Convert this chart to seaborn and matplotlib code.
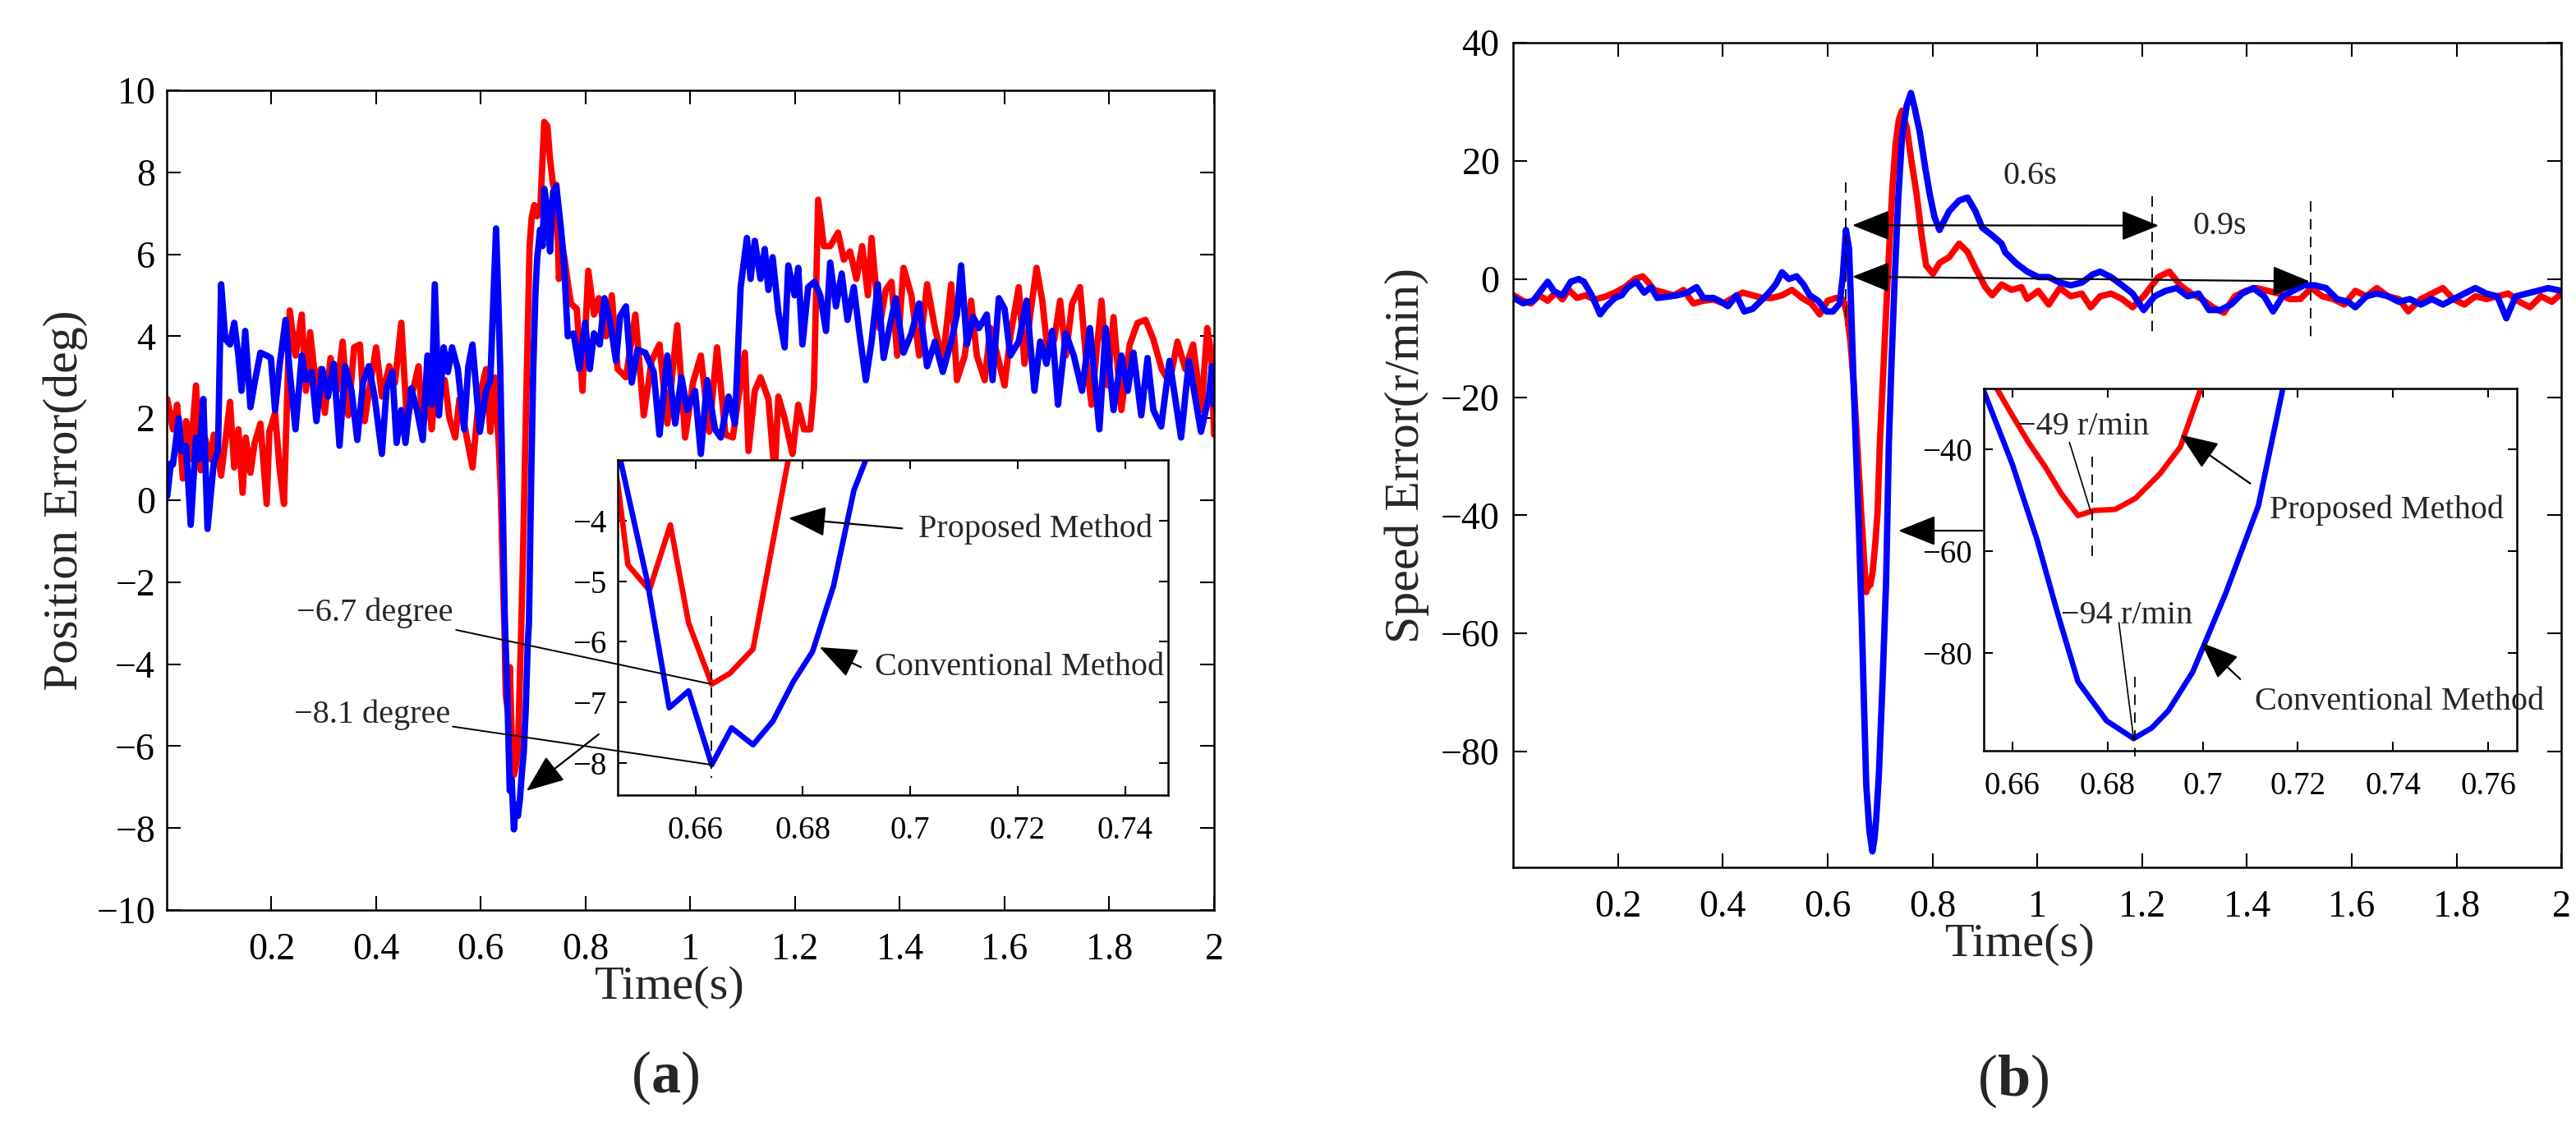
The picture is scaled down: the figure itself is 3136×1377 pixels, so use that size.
import matplotlib
matplotlib.use("Agg")
import matplotlib.pyplot as plt
import seaborn as sns
from matplotlib.patches import ArrowStyle

sns.set_theme(style="white")
plt.rcParams['font.family'] = ['Liberation Serif', 'DejaVu Serif']
plt.rcParams['mathtext.fontset'] = 'custom'
plt.rcParams['mathtext.rm'] = 'Liberation Serif'
plt.rcParams['mathtext.bf'] = 'Liberation Serif:bold'
plt.rcParams['axes.unicode_minus'] = True

# ---------------- (a) position error ----------------
pos_red_t = [0.001, 0.012, 0.020, 0.031, 0.037, 0.045, 0.056, 0.065, 0.073, 0.084, 0.090, 0.104,
             0.121, 0.129, 0.137, 0.145, 0.151, 0.160, 0.168, 0.179, 0.191, 0.196, 0.207, 0.216,
             0.224, 0.235, 0.246, 0.258, 0.266, 0.274, 0.286, 0.294, 0.302, 0.313, 0.325, 0.336,
             0.347, 0.358, 0.369, 0.378, 0.389, 0.400, 0.411, 0.425, 0.436, 0.448, 0.459, 0.470,
             0.481, 0.489, 0.501, 0.506, 0.515, 0.523, 0.531, 0.540, 0.551, 0.559, 0.570, 0.584,
             0.596, 0.610, 0.618, 0.626, 0.630, 0.634, 0.638, 0.642,
             0.6455, 0.6474, 0.6514, 0.6553, 0.6587, 0.6630, 0.6664, 0.6707, 0.6740, 0.6773,
             0.681, 0.685, 0.689, 0.693, 0.697, 0.702, 0.707, 0.713, 0.721, 0.727, 0.732, 0.738,
             0.744, 0.749, 0.755, 0.760, 0.766, 0.772, 0.783, 0.794, 0.805, 0.816, 0.825, 0.839,
             0.850, 0.861, 0.877, 0.895, 0.911, 0.926, 0.941, 0.956, 0.975, 0.990, 1.005, 1.020,
             1.036, 1.051, 1.067, 1.081, 1.104, 1.111, 1.123, 1.134, 1.149, 1.161, 1.168, 1.180,
             1.195, 1.206, 1.217, 1.229, 1.236, 1.244, 1.255, 1.267, 1.282, 1.293, 1.305, 1.317,
             1.328, 1.339, 1.346, 1.361, 1.373, 1.384, 1.395, 1.407, 1.422, 1.437, 1.452, 1.467,
             1.482, 1.498, 1.509, 1.524, 1.536, 1.547, 1.562, 1.573, 1.585, 1.600, 1.611, 1.627,
             1.638, 1.649, 1.661, 1.672, 1.683, 1.695, 1.706, 1.717, 1.729, 1.744, 1.755, 1.766,
             1.785, 1.797, 1.808, 1.823, 1.839, 1.854, 1.869, 1.884, 1.900, 1.915, 1.930, 1.945,
             1.960, 1.976, 1.987, 1.995, 2.000]
pos_red = [2.47, 1.73, 2.33, 0.53, 1.93, 1.00, 2.80, 0.73, 1.53, 1.00, 1.60, 0.60,
           2.40, 0.80, 1.73, 0.18, 1.53, 0.67, 1.40, 1.87, -0.09, 1.67, 2.13, 0.73,
           -0.09, 4.63, 3.53, 4.53, 2.67, 4.10, 2.67, 3.20, 2.13, 3.47, 2.67, 3.87,
           2.07, 3.73, 3.80, 1.93, 2.87, 3.73, 2.53, 3.27, 2.87, 4.33, 1.87, 2.67,
           3.27, 1.80, 2.53, 1.73, 3.00, 2.60, 2.93, 2.00, 1.53, 2.47, 1.73, 0.80,
           2.47, 3.20, 1.67, 3.00, 2.20, 1.40, 0.20, -1.80,
           -3.39, -4.73, -5.15, -4.07, -5.69, -6.70, -6.52, -6.12, -4.55, -2.98,
           -1.00, 1.50, 3.80, 6.20, 6.90, 7.20, 6.93, 7.00, 9.23, 9.13, 8.33, 7.67,
           7.70, 5.40, 6.20, 5.87, 5.30, 4.80, 4.67, 2.67, 5.60, 4.53, 4.93, 4.00,
           5.00, 3.20, 3.00, 4.53, 2.07, 3.40, 3.80, 1.87, 4.27, 1.53, 2.87, 3.53,
           1.67, 3.73, 1.60, 1.53, 3.60, 1.20, 2.67, 3.00, 2.47, 0.60, 2.53, 2.00,
           1.13, 2.33, 1.73, 1.73, 2.73, 7.33, 6.20, 6.20, 6.53, 5.87, 6.07, 5.40,
           6.20, 5.00, 6.40, 4.20, 5.13, 5.33, 3.53, 5.67, 5.00, 3.53, 5.27, 4.20,
           3.40, 5.27, 2.93, 3.53, 4.87, 3.53, 2.93, 4.20, 3.60, 2.80, 4.00, 5.20,
           3.33, 4.53, 5.67, 4.87, 3.53, 3.93, 4.87, 3.53, 4.80, 5.20, 3.53, 2.33,
           4.87, 2.80, 4.47, 2.20, 3.80, 4.33, 4.40, 3.93, 3.20, 2.87, 3.87, 3.20,
           3.80, 2.20, 4.20, 3.53, 1.60]

pos_blue_t = [0.001, 0.008, 0.012, 0.023, 0.028, 0.037, 0.046, 0.056, 0.062, 0.070, 0.078, 0.090,
              0.098, 0.104, 0.112, 0.121, 0.129, 0.137, 0.143, 0.150, 0.160, 0.168, 0.179, 0.191,
              0.199, 0.207, 0.216, 0.227, 0.235, 0.246, 0.258, 0.266, 0.277, 0.286, 0.297, 0.308,
              0.319, 0.330, 0.341, 0.353, 0.364, 0.375, 0.386, 0.397, 0.411, 0.420, 0.431, 0.439,
              0.448, 0.456, 0.467, 0.478, 0.489, 0.498, 0.506, 0.512, 0.520, 0.529, 0.537, 0.545,
              0.556, 0.568, 0.576, 0.584, 0.598, 0.610, 0.618, 0.629, 0.633, 0.637, 0.641,
              0.6455, 0.6510, 0.6551, 0.6587, 0.6630, 0.6667, 0.6707, 0.6744, 0.6782, 0.6818,
              0.6857, 0.6895, 0.6918,
              0.696, 0.700, 0.704, 0.7073, 0.713, 0.718, 0.721, 0.727, 0.732, 0.738, 0.744, 0.752,
              0.758, 0.766, 0.777, 0.788, 0.799, 0.808, 0.816, 0.827, 0.836, 0.847, 0.858, 0.866,
              0.877, 0.888, 0.899, 0.914, 0.930, 0.941, 0.956, 0.971, 0.983, 0.994, 1.009, 1.020,
              1.032, 1.047, 1.058, 1.073, 1.085, 1.096, 1.108, 1.115, 1.123, 1.134, 1.142, 1.149,
              1.157, 1.168, 1.180, 1.187, 1.199, 1.206, 1.214, 1.225, 1.237, 1.248, 1.259, 1.267,
              1.278, 1.289, 1.300, 1.312, 1.323, 1.335, 1.346, 1.358, 1.369, 1.380, 1.392, 1.407,
              1.422, 1.437, 1.452, 1.467, 1.482, 1.498, 1.509, 1.517, 1.528, 1.540, 1.551, 1.566,
              1.577, 1.589, 1.600, 1.611, 1.627, 1.642, 1.657, 1.668, 1.680, 1.691, 1.702, 1.717,
              1.732, 1.748, 1.763, 1.781, 1.793, 1.808, 1.823, 1.835, 1.846, 1.861, 1.873, 1.884,
              1.899, 1.915, 1.937, 1.952, 1.975, 1.990, 1.996, 2.000]
pos_blue = [0.10, 0.90, 0.87, 2.00, 1.20, 1.33, -0.60, 1.53, 1.00, 2.47, -0.70, 0.93,
            1.20, 5.27, 3.93, 3.80, 4.33, 3.53, 2.67, 4.13, 2.27, 2.87, 3.60, 3.53,
            3.47, 2.20, 3.33, 4.40, 3.13, 1.73, 3.53, 2.93, 3.13, 1.93, 3.20, 2.53,
            3.33, 1.33, 3.27, 2.67, 1.47, 2.87, 3.27, 2.53, 1.13, 2.73, 3.13, 1.40,
            2.20, 1.40, 2.73, 2.20, 1.47, 3.53, 2.33, 5.27, 2.07, 3.73, 3.13, 3.73,
            3.20, 1.73, 3.27, 3.80, 1.67, 2.67, 2.93, 6.63, 5.00, 3.20, 0.50,
            -2.80, -5.00, -7.09, -6.81, -8.03, -7.42, -7.70, -7.31, -6.66, -6.16,
            -5.08, -3.50, -2.98,
            0.50, 3.20, 5.00, 5.87, 6.60, 6.20, 7.60, 7.13, 6.07, 7.53, 7.67, 6.73,
            5.93, 4.00, 4.07, 3.20, 4.33, 3.20, 4.07, 3.80, 4.93, 4.33, 3.40, 4.50,
            4.73, 2.87, 3.67, 3.60, 3.13, 1.60, 3.53, 1.87, 3.00, 2.20, 2.67, 1.13,
            2.93, 1.73, 1.53, 2.53, 1.87, 5.20, 6.40, 5.40, 6.33, 5.40, 6.13, 5.13,
            5.93, 4.60, 3.73, 5.73, 5.00, 5.67, 3.80, 5.20, 5.33, 5.00, 4.13, 5.80,
            4.73, 5.53, 4.40, 5.20, 4.07, 2.93, 3.87, 5.27, 3.47, 4.20, 4.93, 3.60,
            4.07, 4.80, 3.27, 3.87, 3.13, 3.87, 4.53, 5.73, 3.80, 4.47, 4.20, 4.53,
            2.93, 4.93, 4.67, 3.53, 3.87, 4.87, 2.67, 3.87, 3.33, 4.13, 2.33, 4.07,
            3.53, 2.67, 4.20, 1.73, 4.20, 2.20, 3.53, 2.67, 3.60, 2.07, 3.47, 2.20,
            1.80, 3.40, 1.53, 3.40, 1.67, 2.53, 3.27, 2.33]

# ---------------- (b) speed error ----------------
spd_red_t = [0.001, 0.019, 0.034, 0.050, 0.066, 0.081, 0.094, 0.106, 0.122, 0.138, 0.156, 0.175,
             0.194, 0.213, 0.232, 0.247, 0.257, 0.269, 0.288, 0.307, 0.325, 0.344, 0.363, 0.382,
             0.401, 0.419, 0.438, 0.457, 0.476, 0.494, 0.513, 0.532, 0.551, 0.569, 0.585, 0.600,
             0.616, 0.626, 0.632, 0.638, 0.644, 0.650,
             0.6566, 0.6600, 0.6634, 0.6669, 0.6703, 0.6738, 0.6772, 0.6816, 0.6859, 0.6910,
             0.6953, 0.6997,
             0.706, 0.712, 0.718, 0.724, 0.730, 0.736, 0.742, 0.746, 0.751, 0.760, 0.770, 0.780,
             0.788, 0.801, 0.814, 0.832, 0.851, 0.867, 0.882, 0.901, 0.914, 0.932, 0.951, 0.970,
             0.981, 1.002, 1.022, 1.043, 1.064, 1.085, 1.102, 1.120, 1.141, 1.162, 1.182, 1.203,
             1.231, 1.252, 1.273, 1.294, 1.314, 1.335, 1.356, 1.377, 1.398, 1.419, 1.440, 1.461,
             1.481, 1.502, 1.523, 1.544, 1.565, 1.586, 1.607, 1.628, 1.648, 1.669, 1.690, 1.708,
             1.732, 1.753, 1.774, 1.794, 1.815, 1.836, 1.857, 1.878, 1.899, 1.920, 1.940, 1.961,
             1.982, 2.000]
spd_red = [-2.76, -3.70, -4.14, -2.76, -3.68, -2.30, -3.45, -1.84, -3.20, -2.76, -3.45, -3.00,
           -2.30, -1.38, 0.00, 0.46, -0.46, -1.84, -2.30, -2.76, -1.84, -4.14, -3.68, -3.45,
           -4.14, -3.20, -2.30, -2.76, -3.20, -3.20, -2.76, -1.84, -3.20, -4.14, -5.98, -3.68,
           -3.20, -3.20, -4.00, -6.50, -11.0, -18.0,
           -27.8, -33.3, -38.6, -43.4, -48.7, -53.0, -52.0, -51.8, -49.6, -44.8,
           -39.5, -27.8,
           -16.0, -5.0, 6.0, 16.0, 23.0, 27.0, 28.5, 27.0, 25.7, 20.0, 14.3, 7.0,
           2.30, 0.90, 2.76, 3.70, 6.00, 4.60, 1.84, -1.38, -2.76, -0.92, -1.84, -1.38,
           -3.39, -2.00, -4.32, -1.53, -2.92, -2.46, -4.78, -2.92, -2.46, -3.39, -4.78, -2.92,
           0.33, 1.25, -1.07, -2.46, -3.39, -4.78, -5.70, -2.92, -2.00, -1.53, -2.00, -2.46,
           -3.39, -3.39, -1.53, -2.92, -3.39, -4.32, -2.00, -2.92, -1.53, -2.92, -3.39, -5.48,
           -3.39, -2.46, -1.53, -3.39, -4.32, -2.92, -3.39, -2.92, -2.46, -3.85, -4.78, -2.92,
           -3.85, -2.46]

spd_blue_t = [0.001, 0.019, 0.038, 0.050, 0.066, 0.078, 0.094, 0.110, 0.125, 0.135, 0.150, 0.166,
              0.178, 0.194, 0.207, 0.219, 0.235, 0.250, 0.263, 0.275, 0.294, 0.313, 0.332, 0.350,
              0.363, 0.382, 0.394, 0.410, 0.426, 0.441, 0.457, 0.473, 0.488, 0.501, 0.513, 0.526,
              0.541, 0.554, 0.566, 0.582, 0.598, 0.610, 0.623, 0.629, 0.635, 0.641, 0.645, 0.649,
              0.6540, 0.6600, 0.6652, 0.6695, 0.6738, 0.6798, 0.6855, 0.6893, 0.6928, 0.6979,
              0.7048, 0.7117, 0.7169,
              0.722, 0.728, 0.735, 0.742, 0.751, 0.759, 0.766, 0.776, 0.786, 0.795, 0.804, 0.8135,
              0.832, 0.851, 0.867, 0.882, 0.895, 0.914, 0.932, 0.939, 0.960, 0.981, 1.002, 1.022,
              1.043, 1.064, 1.085, 1.106, 1.120, 1.141, 1.162, 1.182, 1.203, 1.224, 1.245, 1.266,
              1.287, 1.308, 1.328, 1.349, 1.370, 1.391, 1.412, 1.433, 1.450, 1.468, 1.488, 1.509,
              1.530, 1.551, 1.572, 1.593, 1.607, 1.628, 1.648, 1.669, 1.690, 1.711, 1.732, 1.753,
              1.774, 1.794, 1.815, 1.836, 1.857, 1.878, 1.895, 1.913, 1.934, 1.954, 1.975, 2.000]
spd_blue = [-3.20, -4.10, -3.70, -2.30, -0.46, -2.07, -2.76, -0.46, 0.00, -0.46, -2.76, -5.98,
            -4.60, -3.20, -2.76, -1.38, -0.46, -2.30, -1.38, -3.20, -3.00, -2.76, -2.30, -1.38,
            -3.20, -3.20, -3.70, -4.60, -2.76, -5.50, -5.06, -3.68, -2.30, -0.92, 1.15, 0.00,
            0.46, -0.92, -2.76, -3.68, -5.50, -5.50, -4.14, 0.46, 8.30, 5.06, -5.0, -16.0,
            -28.5, -42.9, -57.8, -72.2, -85.7, -93.4, -96.9, -94.8, -91.4, -83.8,
            -68.4, -51.1, -27.8,
            -14.0, 0.0, 14.0, 24.0, 29.4, 31.5, 29.0, 24.8, 19.0, 14.3, 10.5, 8.3,
            11.5, 13.3, 13.8, 11.5, 8.7, 7.4, 6.0, 4.5, 2.65, 1.25, 0.33, 0.33,
            -0.60, -1.07, -0.60, 0.79, 1.25, 0.33, -1.07, -2.46, -5.25, -2.92, -2.00, -1.53,
            -2.92, -2.46, -5.25, -5.25, -4.30, -2.46, -1.53, -2.92, -5.48, -2.92, -2.00, -1.07,
            -1.07, -1.53, -3.39, -3.85, -4.78, -2.92, -2.46, -2.92, -3.85, -3.39, -4.32, -3.39,
            -4.32, -3.39, -2.46, -1.53, -2.46, -2.92, -6.64, -2.92, -2.46, -2.00, -1.53, -2.00]

main_xticks = [0.2, 0.4, 0.6, 0.8, 1.0, 1.2, 1.4, 1.6, 1.8, 2.0]
main_xlabels = ['0.2', '0.4', '0.6', '0.8', '1', '1.2', '1.4', '1.6', '1.8', '2']
pos_yticks = [-10, -8, -6, -4, -2, 0, 2, 4, 6, 8, 10]
spd_yticks = [-80, -60, -40, -20, 0, 20, 40]
pos_in_xticks = [0.66, 0.68, 0.70, 0.72, 0.74]
pos_in_xlabels = ['0.66', '0.68', '0.7', '0.72', '0.74']
pos_in_yticks = [-8, -7, -6, -5, -4]
spd_in_xticks = [0.66, 0.68, 0.70, 0.72, 0.74, 0.76]
spd_in_xlabels = ['0.66', '0.68', '0.7', '0.72', '0.74', '0.76']
spd_in_yticks = [-80, -60, -40]

RED = '#ff0000'
BLUE = '#0000ff'
LW = 5.6


def minus(v):
    return ('%g' % v).replace('-', '\u2212')


def style_axes(ax, size, tlen, pad_x, pad_y):
    for s in ax.spines.values():
        s.set_color('black')
        s.set_linewidth(1.8)
    ax.tick_params(axis='both', which='both', direction='in', length=tlen, width=1.5,
                   colors='black', labelsize=size, top=True, right=True,
                   bottom=True, left=True, labeltop=False, labelright=False)
    ax.tick_params(axis='x', pad=pad_x)
    ax.tick_params(axis='y', pad=pad_y)
    ax.grid(False)
    ax.set_facecolor('white')


def draw(ax, t, y, color, lw):
    sns.lineplot(x=t, y=y, ax=ax, color=color, linewidth=lw, estimator=None,
                 sort=False, legend=False)


fig = plt.figure(figsize=(31.36, 13.77), dpi=100)
head = ArrowStyle('-|>', head_length=0.8, head_width=0.32)
dhead = ArrowStyle('<|-|>', head_length=0.8, head_width=0.32)
arrow_kw = dict(arrowstyle=head, color='black', lw=1.6, mutation_scale=36, shrinkA=0, shrinkB=0)
line_kw = dict(arrowstyle='-', color='black', lw=1.4, shrinkA=0, shrinkB=0)
dash = (0, (7, 5))

# ===== panel (a) =====
ax1 = fig.add_axes([0.0647, 0.1953, 0.4066, 0.7248])
draw(ax1, pos_red_t, pos_red, RED, LW)
draw(ax1, pos_blue_t, pos_blue, BLUE, LW)
ax1.set_xlim(0, 2)
ax1.set_ylim(-10, 10)
ax1.set_xticks(main_xticks)
ax1.set_xticklabels(main_xlabels)
ax1.set_yticks(pos_yticks)
ax1.set_yticklabels([minus(v) for v in pos_yticks])
style_axes(ax1, 33, 12, 20, 10)
ax1.set_xlabel('Time(s)', fontsize=42)
ax1.set_ylabel('Position Error(deg)', fontsize=43)
ax1.xaxis.set_label_coords(0.48, -0.068)
ax1.yaxis.set_label_coords(-0.075, 0.5)
ax1.annotate('', xy=(0.687, -7.09), xytext=(0.825, -5.71), arrowprops=arrow_kw)

ax1i = fig.add_axes([0.2398, 0.2970, 0.2136, 0.2963], zorder=5)
draw(ax1i, pos_red_t, pos_red, RED, 4.8)
draw(ax1i, pos_blue_t, pos_blue, BLUE, 4.8)
ax1i.set_xlim(0.6455, 0.748)
ax1i.set_ylim(-8.53, -3.0)
ax1i.set_xticks(pos_in_xticks)
ax1i.set_xticklabels(pos_in_xlabels)
ax1i.set_yticks(pos_in_yticks)
ax1i.set_yticklabels([minus(v) for v in pos_in_yticks])
style_axes(ax1i, 28, 8, 18, 10)
ax1i.set_xlabel('')
ax1i.set_ylabel('')
ax1i.plot([0.663, 0.663], [-5.58, -8.25], color='black', lw=1.3, linestyle=dash)
ax1i.annotate('\u22126.7 degree', xy=(0.663, -6.7), xytext=(0.5475, -2.745),
              textcoords=ax1.transData, ha='right', va='center', fontsize=29,
              arrowprops=line_kw)
ax1i.annotate('\u22128.1 degree', xy=(0.663, -8.03), xytext=(0.541, -5.23),
              textcoords=ax1.transData, ha='right', va='center', fontsize=29,
              arrowprops=line_kw)
ax1i.annotate('', xy=(0.6773, -3.96), xytext=(0.6985, -4.13), arrowprops=arrow_kw)
ax1i.text(0.7015, -4.14, 'Proposed Method', ha='left', va='center', fontsize=29)
ax1i.annotate('', xy=(0.6831, -6.09), xytext=(0.6908, -6.42), arrowprops=arrow_kw)
ax1i.text(0.6934, -6.42, 'Conventional Method', ha='left', va='center', fontsize=29)

# ===== panel (b) =====
ax2 = fig.add_axes([0.5874, 0.2331, 0.4069, 0.7291])
draw(ax2, spd_red_t, spd_red, RED, LW)
draw(ax2, spd_blue_t, spd_blue, BLUE, LW)
ax2.set_xlim(0, 2)
ax2.set_ylim(-99.6, 40)
ax2.set_xticks(main_xticks)
ax2.set_xticklabels(main_xlabels)
ax2.set_yticks(spd_yticks)
ax2.set_yticklabels([minus(v) for v in spd_yticks])
style_axes(ax2, 33, 12, 20, 12)
ax2.set_xlabel('Time(s)', fontsize=42)
ax2.set_ylabel('Speed Error(r/min)', fontsize=43)
ax2.xaxis.set_label_coords(0.484, -0.068)
ax2.yaxis.set_label_coords(-0.08, 0.5)
for xv, y0, y1 in [(0.634, 16.3, -7.8), (1.22, 14.0, -9.4), (1.522, 13.2, -10.0)]:
    ax2.plot([xv, xv], [y0, y1], color='black', lw=1.3, linestyle=dash)
dkw = dict(arrowprops=dict(arrowstyle=dhead, color='black', lw=1.6, mutation_scale=36,
                           shrinkA=0, shrinkB=0))
ax2.annotate('', xy=(1.232, 9.05), xytext=(0.647, 9.1), **dkw)
ax2.annotate('', xy=(1.52, -0.4), xytext=(0.647, 0.4), **dkw)
ax2.text(0.986, 17.4, '0.6s', ha='center', va='center', fontsize=29)
ax2.text(1.349, 8.9, '0.9s', ha='center', va='center', fontsize=29)
ax2.annotate('', xy=(0.735, -42.6), xytext=(0.9, -42.6), arrowprops=arrow_kw)

ax2i = fig.add_axes([0.7701, 0.3362, 0.2069, 0.3203], zorder=5)
draw(ax2i, spd_red_t, spd_red, RED, 4.8)
draw(ax2i, spd_blue_t, spd_blue, BLUE, 4.8)
ax2i.set_xlim(0.654, 0.766)
ax2i.set_ylim(-99.3, -28)
ax2i.set_xticks(spd_in_xticks)
ax2i.set_xticklabels(spd_in_xlabels)
ax2i.set_yticks(spd_in_yticks)
ax2i.set_yticklabels([minus(v) for v in spd_in_yticks])
style_axes(ax2i, 28, 8, 18, 10)
ax2i.set_xlabel('')
ax2i.set_ylabel('')
ax2i.text(0.661, -35.5, '\u221249 r/min', ha='left', va='center', fontsize=29)
ax2i.plot([0.672, 0.6764], [-38.6, -52.0], color='black', lw=1.2)
ax2i.plot([0.6767, 0.6767], [-41.4, -62.0], color='black', lw=1.3, linestyle=dash)
ax2i.annotate('', xy=(0.6953, -37.1), xytext=(0.710, -46.7), arrowprops=arrow_kw)
ax2i.text(0.714, -52.0, 'Proposed Method', ha='left', va='center', fontsize=29)
ax2i.text(0.6703, -72.7, '\u221294 r/min', ha='left', va='center', fontsize=29)
ax2i.plot([0.6824, 0.6855], [-74.1, -97.0], color='black', lw=1.2)
ax2i.plot([0.6858, 0.6858], [-84.7, -100.5], color='black', lw=1.3, linestyle=dash,
          clip_on=False)
ax2i.annotate('', xy=(0.6997, -78.0), xytext=(0.7079, -85.2), arrowprops=arrow_kw)
ax2i.text(0.7109, -89.6, 'Conventional Method', ha='left', va='center', fontsize=29,
          clip_on=False)

fig.text(0.258, 0.047, r'($\mathbf{a}$)', ha='center', va='center', fontsize=52)
fig.text(0.7813, 0.044, r'($\mathbf{b}$)', ha='center', va='center', fontsize=52)

fig.savefig('out.png', dpi=100, facecolor='white')
